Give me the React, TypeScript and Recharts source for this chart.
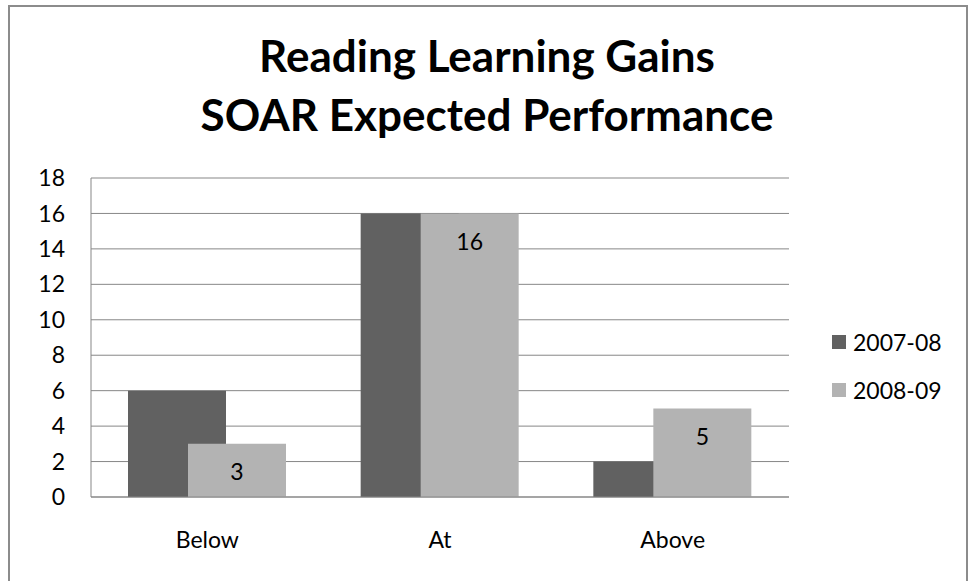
import React from 'react';
import { BarChart, Bar, XAxis, YAxis, CartesianGrid, Legend, LabelList } from 'recharts';

const categories = ['Below', 'At', 'Above'];
const values0708 = [6, 16, 2];
const values0809 = [3, 16, 5];
const seriesNames = ['2007-08', '2008-09'];
const seriesColors = ['#616161', '#b3b3b3'];
const yTicks = [0, 2, 4, 6, 8, 10, 12, 14, 16, 18];
const titleLines = ['Reading Learning Gains', 'SOAR Expected Performance'];

const data = categories.map((label, i) => ({
  label,
  s1: values0708[i],
  s2: values0809[i],
}));

const font = 'Lato, "Open Sans", sans-serif';
const textColor = '#000000';
const gridColor = '#878787';

const LegendContent = (props: any) => {
  const items = props.payload || [];
  return (
    <div style={{ paddingLeft: 43, fontFamily: font, fontSize: 23, color: textColor }}>
      {items.map((entry: any) => (
        <div key={entry.value} style={{ display: 'flex', alignItems: 'center', height: 48 }}>
          <span style={{ width: 14, height: 14, background: entry.color, marginRight: 7, display: 'inline-block' }} />
          <span>{entry.value}</span>
        </div>
      ))}
    </div>
  );
};

export default function App() {
  const tickStyle = { fill: textColor, fontSize: 23, fontFamily: font };

  return (
    <div style={{ position: 'fixed', left: 0, top: 0, width: 969, height: 581, background: '#fff', overflow: 'hidden' }}>
      <div
        style={{
          position: 'absolute',
          left: 8,
          top: 5,
          width: 960,
          height: 590,
          border: '2px solid #8c8c8c',
          boxSizing: 'border-box',
        }}
      />
      <svg width={969} height={170} style={{ position: 'absolute', left: 0, top: 0 }}>
        {titleLines.map((line, i) => (
          <text
            key={line}
            x={487}
            y={72 + i * 59}
            textAnchor="middle"
            fontFamily={font}
            fontWeight={700}
            fontSize={44}
            fill={textColor}
          >
            {line}
          </text>
        ))}
      </svg>
      <div style={{ position: 'absolute', left: 0, top: 0 }}>
        <BarChart
          width={969}
          height={581}
          data={data}
          margin={{ top: 178, right: 0, bottom: 44, left: 0 }}
          barSize={98}
          barGap={-38}
        >
          <CartesianGrid vertical={false} stroke={gridColor} />
          <XAxis
            dataKey="label"
            height={40}
            tick={tickStyle}
            tickLine={false}
            tickSize={0}
            tickMargin={35}
            axisLine={{ stroke: gridColor }}
          />
          <YAxis
            width={91}
            domain={[0, 18]}
            ticks={yTicks}
            interval={0}
            tick={tickStyle}
            tickLine={false}
            tickSize={0}
            tickMargin={26}
            axisLine={{ stroke: gridColor }}
          />
          <Legend
            layout="vertical"
            align="right"
            verticalAlign="middle"
            width={180}
            wrapperStyle={{ top: 318 }}
            content={<LegendContent />}
          />
          <Bar dataKey="s1" name={seriesNames[0]} fill={seriesColors[0]} isAnimationActive={false} />
          <Bar dataKey="s2" name={seriesNames[1]} fill={seriesColors[1]} isAnimationActive={false}>
            <LabelList
              dataKey="s2"
              position="insideTop"
              offset={20}
              style={{ fill: textColor, fontSize: 23, fontFamily: font }}
            />
          </Bar>
        </BarChart>
      </div>
    </div>
  );
}
